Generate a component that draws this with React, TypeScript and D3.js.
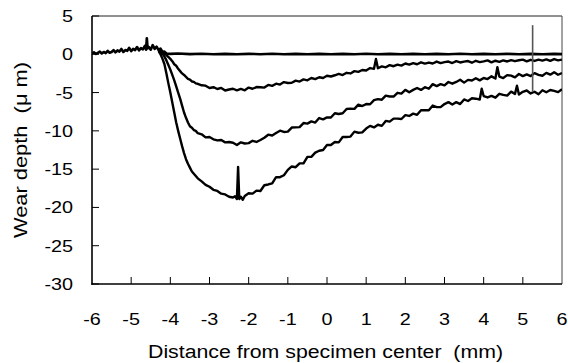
import React from "react";
import * as d3 from "d3";

type P = [number, number];

const xTicks = [-6, -5, -4, -3, -2, -1, 0, 1, 2, 3, 4, 5, 6];
const yTicks = [5, 0, -5, -10, -15, -20, -25, -30];
const xTitle = "Distance from specimen center  (mm)";
const yTitle = "Wear depth  (\u03bc m)";

// unworn reference profile (also the common noisy band at the left)
const flatSeries: P[] = [
  [-6.0, 0.1], [-5.95, 0.25], [-5.9, 0.05], [-5.85, 0.2], [-5.8, 0.35], [-5.75, 0.1], [-5.7, 0.3],
  [-5.65, 0.15], [-5.6, 0.45], [-5.55, 0.2], [-5.5, 0.3], [-5.45, 0.55], [-5.4, 0.25], [-5.35, 0.5],
  [-5.3, 0.35], [-5.25, 0.7], [-5.2, 0.3], [-5.15, 0.55], [-5.1, 0.45], [-5.05, 0.85], [-5.0, 0.4],
  [-4.95, 0.7], [-4.9, 0.55], [-4.85, 0.95], [-4.8, 0.5], [-4.75, 0.8], [-4.7, 0.65], [-4.65, 1.1],
  [-4.62, 0.6], [-4.6, 2.1], [-4.58, 0.75], [-4.55, 0.95], [-4.5, 0.6], [-4.45, 1.2], [-4.4, 0.7],
  [-4.35, 1.0], [-4.3, 0.55], [-4.25, 0.75], [-4.2, 0.3], [-4.15, 0.35], [-4.1, 0.1], [-4.0, 0.05],
  [-3.8, 0.1], [-3.5, 0.02], [-3.2, 0.07], [-2.9, 0.0], [-2.6, 0.05], [-2.3, 0.0], [-2.0, 0.06],
  [-1.7, 0.01], [-1.4, 0.07], [-1.1, 0.0], [-0.8, 0.05], [-0.5, 0.0], [-0.2, 0.06], [0.1, 0.0],
  [0.4, 0.05], [0.7, 0.0], [1.0, 0.07], [1.3, 0.01], [1.6, 0.06], [1.9, 0.0], [2.2, 0.05], [2.5, 0.0],
  [2.8, 0.06], [3.1, 0.0], [3.4, 0.07], [3.7, 0.0], [4.0, 0.05], [4.3, 0.0], [4.6, 0.06], [4.9, 0.0],
  [5.2, 0.05], [5.5, 0.0], [5.8, 0.06], [6.0, 0.02],
];

const shallowSeries: P[] = [
  [-4.3, 0.55], [-4.2, 0.3], [-4.1, -0.1], [-4.0, -0.6], [-3.95, -0.9], [-3.9, -1.3], [-3.85, -1.5],
  [-3.8, -1.9], [-3.75, -2.2], [-3.7, -2.5], [-3.65, -2.7], [-3.6, -2.95], [-3.55, -3.2], [-3.5, -3.3],
  [-3.45, -3.55], [-3.4, -3.6], [-3.35, -3.8], [-3.3, -3.85], [-3.2, -4.05], [-3.1, -4.1],
  [-3.0, -4.4], [-2.9, -4.3], [-2.8, -4.53], [-2.7, -4.39], [-2.6, -4.73], [-2.5, -4.6], [-2.4, -4.5],
  [-2.3, -4.7], [-2.2, -4.53], [-2.1, -4.7], [-2.0, -4.35], [-1.9, -4.5], [-1.8, -4.28], [-1.7, -4.3],
  [-1.6, -4.35], [-1.5, -4.0], [-1.4, -4.12], [-1.3, -3.84], [-1.2, -3.96], [-1.1, -3.63],
  [-1.0, -3.75], [-0.9, -3.72], [-0.8, -3.44], [-0.7, -3.56], [-0.6, -3.28], [-0.5, -3.4],
  [-0.4, -3.1], [-0.3, -3.24], [-0.2, -3.0], [-0.1, -3.1], [0.0, -2.8], [0.1, -2.9], [0.2, -2.74],
  [0.3, -2.56], [0.4, -2.71], [0.5, -2.42], [0.6, -2.5], [0.7, -2.2], [0.8, -2.3], [0.9, -2.05],
  [1.0, -2.12], [1.1, -1.8], [1.2, -1.9], [1.25, -0.6], [1.3, -1.82], [1.4, -1.58], [1.5, -1.7],
  [1.6, -1.42], [1.7, -1.56], [1.8, -1.35], [1.9, -1.48], [2.0, -1.2], [2.1, -1.35], [2.2, -1.16],
  [2.3, -1.3], [2.4, -1.05], [2.5, -1.22], [2.6, -1.08], [2.7, -1.2], [2.8, -0.95], [2.9, -1.15],
  [3.0, -1.02], [3.1, -0.95], [3.2, -1.14], [3.3, -0.9], [3.4, -1.07], [3.5, -0.96], [3.6, -0.88],
  [3.7, -1.1], [3.8, -0.85], [3.9, -1.02], [4.0, -0.92], [4.1, -0.8], [4.2, -1.05], [4.3, -0.84],
  [4.4, -0.98], [4.5, -0.8], [4.6, -0.94], [4.7, -0.76], [4.8, -0.9], [4.9, -0.78], [5.0, -0.7],
  [5.1, -0.93], [5.2, -0.72], [5.3, -0.87], [5.4, -0.7], [5.5, -0.82], [5.6, -0.66], [5.7, -0.85],
  [5.8, -0.62], [5.9, -0.8], [6.0, -0.7],
];

const mediumSeries: P[] = [
  [-4.3, 0.45], [-4.2, 0.1], [-4.15, -0.3], [-4.1, -0.8], [-4.05, -1.4], [-4.0, -2.0], [-3.95, -2.7],
  [-3.9, -3.4], [-3.85, -4.2], [-3.8, -5.0], [-3.75, -5.8], [-3.7, -6.7], [-3.65, -7.6], [-3.6, -8.3],
  [-3.55, -8.9], [-3.5, -9.4], [-3.45, -9.6], [-3.4, -9.9], [-3.35, -10.0], [-3.3, -10.3],
  [-3.2, -10.45], [-3.1, -10.85], [-3.0, -10.8], [-2.9, -11.1], [-2.8, -11.25], [-2.7, -11.2],
  [-2.6, -11.5], [-2.5, -11.45], [-2.4, -11.55], [-2.3, -11.85], [-2.2, -11.5], [-2.1, -11.65],
  [-2.0, -11.6], [-1.9, -11.3], [-1.8, -11.45], [-1.7, -11.2], [-1.6, -10.9], [-1.5, -10.5],
  [-1.4, -10.6], [-1.3, -10.27], [-1.2, -9.98], [-1.1, -10.14], [-1.0, -10.1], [-0.9, -9.57],
  [-0.8, -9.54], [-0.7, -9.51], [-0.6, -8.98], [-0.5, -9.05], [-0.4, -8.76], [-0.3, -8.92],
  [-0.2, -8.33], [-0.1, -8.49], [0.0, -8.25], [0.1, -8.25], [0.2, -7.7], [0.3, -7.8], [0.4, -7.7],
  [0.5, -7.15], [0.6, -7.09], [0.7, -7.13], [0.8, -6.57], [0.9, -6.76], [1.0, -6.5], [1.1, -6.52],
  [1.2, -5.99], [1.3, -5.86], [1.4, -5.93], [1.5, -5.4], [1.6, -5.51], [1.7, -5.52], [1.8, -5.03],
  [1.9, -5.14], [2.0, -4.65], [2.1, -4.95], [2.2, -4.65], [2.3, -4.4], [2.4, -4.65], [2.5, -4.3],
  [2.6, -4.5], [2.7, -3.9], [2.8, -4.15], [2.9, -3.9], [3.0, -4.05], [3.1, -3.62], [3.2, -3.84],
  [3.3, -3.61], [3.4, -3.33], [3.5, -3.7], [3.6, -3.34], [3.7, -3.43], [3.8, -3.12], [3.9, -3.41],
  [4.0, -3.1], [4.1, -3.24], [4.2, -2.88], [4.3, -3.17], [4.35, -1.7], [4.4, -2.91], [4.5, -3.1],
  [4.6, -2.72], [4.7, -2.79], [4.8, -3.01], [4.9, -2.58], [5.0, -2.85], [5.1, -2.62], [5.2, -2.84],
  [5.3, -2.46], [5.4, -2.68], [5.5, -2.8], [5.6, -2.43], [5.7, -2.66], [5.8, -2.34], [5.9, -2.67],
  [6.0, -2.45],
];

const deepSeries: P[] = [
  [-4.3, 0.4], [-4.25, 0.0], [-4.2, -0.6], [-4.15, -1.3], [-4.1, -2.5], [-4.05, -3.8], [-4.0, -5.0],
  [-3.95, -6.3], [-3.9, -7.6], [-3.85, -8.9], [-3.8, -10.0], [-3.75, -11.0], [-3.7, -12.0],
  [-3.65, -12.9], [-3.6, -13.7], [-3.55, -14.3], [-3.5, -14.8], [-3.45, -15.3], [-3.4, -15.6],
  [-3.35, -15.9], [-3.3, -16.2], [-3.2, -16.6], [-3.1, -17.05], [-3.0, -17.3], [-2.9, -17.7],
  [-2.8, -17.85], [-2.7, -18.2], [-2.6, -18.3], [-2.5, -18.6], [-2.4, -18.7], [-2.35, -18.55],
  [-2.3, -18.9], [-2.27, -14.7], [-2.24, -18.9], [-2.2, -18.6], [-2.15, -19.0], [-2.1, -18.5],
  [-2.0, -18.15], [-1.9, -18.2], [-1.8, -17.8], [-1.7, -17.85], [-1.6, -17.1], [-1.5, -17.0],
  [-1.4, -16.85], [-1.3, -16.05], [-1.2, -16.05], [-1.1, -15.8], [-1.0, -15.1], [-0.9, -14.65],
  [-0.8, -14.75], [-0.7, -14.25], [-0.6, -14.25], [-0.5, -13.4], [-0.4, -13.4], [-0.3, -12.85],
  [-0.2, -12.6], [-0.1, -12.5], [0.0, -11.85], [0.1, -11.85], [0.2, -11.45], [0.3, -11.5],
  [0.4, -10.8], [0.5, -10.8], [0.6, -10.75], [0.7, -10.1], [0.8, -10.25], [0.9, -10.2], [1.0, -9.7],
  [1.1, -9.35], [1.2, -9.55], [1.3, -9.2], [1.4, -9.35], [1.5, -8.7], [1.6, -8.8], [1.7, -8.4],
  [1.8, -8.4], [1.9, -8.45], [2.0, -7.95], [2.1, -8.05], [2.2, -7.75], [2.3, -7.9], [2.4, -7.3],
  [2.5, -7.3], [2.6, -7.3], [2.7, -6.7], [2.8, -6.9], [2.9, -6.9], [3.0, -6.5], [3.1, -6.25],
  [3.2, -6.55], [3.3, -6.25], [3.4, -6.5], [3.5, -5.9], [3.6, -6.1], [3.7, -5.75], [3.8, -5.8],
  [3.9, -5.9], [3.95, -4.5], [4.0, -5.45], [4.1, -5.64], [4.2, -5.43], [4.3, -5.67], [4.4, -5.16],
  [4.5, -5.3], [4.6, -5.39], [4.7, -4.88], [4.8, -5.17], [4.85, -4.1], [4.9, -5.26], [5.0, -4.9],
  [5.1, -4.73], [5.2, -5.11], [5.3, -4.89], [5.4, -5.22], [5.5, -4.7], [5.6, -4.96], [5.7, -4.67],
  [5.8, -4.78], [5.9, -4.94], [6.0, -4.55],
];

// isolated gray spike on the deepest profile
const spikeX = 5.25;
const spikeFrom = -4.9;
const spikeTo = 3.8;

const FONT = "'Liberation Sans', Arial, Helvetica, sans-serif";

export default function App() {
  const W = 568;
  const H = 363;
  const L = 92, R = 562, T = 16, B = 284;
  const x = d3.scaleLinear().domain([-6, 6]).range([L, R]);
  const y = d3.scaleLinear().domain([-30, 5]).range([B, T]);
  const line = d3.line<P>().x((d) => x(d[0])).y((d) => y(d[1]));
  const series = [flatSeries, shallowSeries, mediumSeries, deepSeries];

  return (
    <div style={{ position: "absolute", left: 0, top: 0 }}>
      <svg width={W} height={H} style={{ display: "block", background: "#fff" }}>
        <rect x={0} y={0} width={W} height={H} fill="#fff" />
        {/* frame */}
        <line x1={L} x2={R} y1={T} y2={T} stroke="#222" strokeWidth={1} />
        <line x1={R} x2={R} y1={T} y2={B} stroke="#444" strokeWidth={1} />
        {/* ticks */}
        {yTicks.map((t) => (
          <line key={"yt" + t} x1={L} x2={L + 7} y1={y(t)} y2={y(t)} stroke="#000" strokeWidth={1} />
        ))}
        {xTicks.slice(1, -1).map((t) => (
          <line key={"xt" + t} x1={x(t)} x2={x(t)} y1={B} y2={B - 7} stroke="#000" strokeWidth={1} />
        ))}
        {/* data */}
        <g clipPath="url(#clip)">
          {series.map((s, i) => (
            <path
              key={i}
              d={line(s) || ""}
              fill="none"
              stroke="#000"
              strokeWidth={i === 0 ? 2.6 : 2.4}
              strokeLinejoin="round"
            />
          ))}
          <line x1={x(spikeX)} x2={x(spikeX)} y1={y(spikeFrom)} y2={y(spikeTo)} stroke="#555" strokeWidth={1.6} />
        </g>
        <defs>
          <clipPath id="clip">
            <rect x={L} y={T - 2} width={R - L} height={B - T + 2} />
          </clipPath>
        </defs>
        {/* axes */}
        <line x1={L} x2={L} y1={T} y2={B + 0.75} stroke="#000" strokeWidth={1.6} />
        <line x1={L - 0.75} x2={R} y1={B} y2={B} stroke="#000" strokeWidth={1.6} />
        {/* tick labels */}
        {yTicks.map((t) => (
          <text
            key={"yl" + t}
            transform={`translate(73,${y(t) + 6}) scale(1.2,1)`}
            textAnchor="end"
            fontFamily={FONT}
            fontSize={16.5}
            fill="#000"
          >
            {t}
          </text>
        ))}
        {xTicks.map((t) => (
          <text
            key={"xl" + t}
            transform={`translate(${x(t)},325) scale(1.2,1)`}
            textAnchor="middle"
            fontFamily={FONT}
            fontSize={16.5}
            fill="#000"
          >
            {t}
          </text>
        ))}
        {/* titles */}
        <text
          x={325.5}
          y={358}
          textAnchor="middle"
          fontFamily={FONT}
          fontSize={18}
          textLength={355}
          lengthAdjust="spacingAndGlyphs"
          style={{ whiteSpace: "pre" }}
        >
          {xTitle}
        </text>
        <text
          transform={`translate(27,150) rotate(-90)`}
          textAnchor="middle"
          fontFamily={FONT}
          fontSize={18}
          textLength={176}
          lengthAdjust="spacingAndGlyphs"
          style={{ whiteSpace: "pre" }}
        >
          {yTitle}
        </text>
      </svg>
    </div>
  );
}
